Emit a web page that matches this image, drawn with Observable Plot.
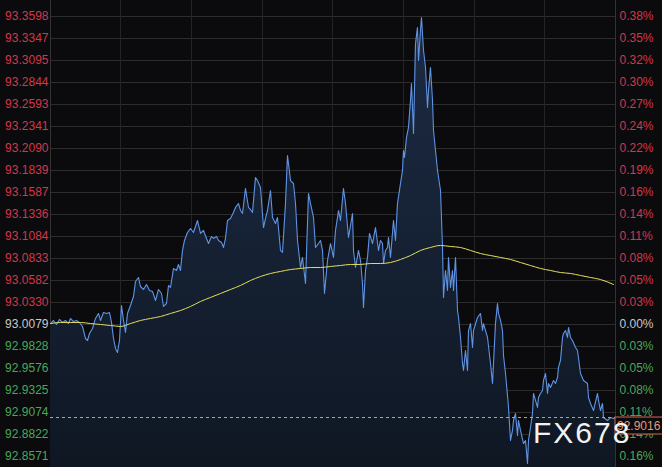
<!DOCTYPE html>
<html><head><meta charset="utf-8">
<script src="https://cdn.jsdelivr.net/npm/d3@7"></script>
<script src="https://cdn.jsdelivr.net/npm/@observablehq/plot@0.6"></script>
<style>
html,body{margin:0;padding:0;background:#0b0b0d;}
#chart{width:662px;height:467px;position:relative;overflow:hidden;}
</style></head><body><div id="chart"></div>
<script>
// time index (minutes from start of window)
const times = [
  0,3,6,9,12,15,18,20,23,26,
  29,32,35,37,39,42,45,48,50,53,
  56,59,61,63,65,67,69,71,73,75,
  77,80,83,85,88,90,93,96,99,102,
  105,108,111,113,116,118,120,123,126,128,
  130,132,134,137,140,143,147,150,153,156,
  158,161,163,166,168,171,173,175,177,180,
  183,185,188,190,192,195,198,200,202,205,
  207,210,213,215,217,220,222,225,227,230,
  232,235,237,240,243,245,247,250,252,255,
  258,260,263,265,268,270,272,274,277,280,
  283,285,287,288,290,293,295,298,300,302,
  303,305,308,310,312,313,315,317,319,322,
  325,328,330,332,333,335,337,338,340,343,
  345,347,350,352,353,354,356,358,360,361,
  363,365,367,368,370,371,373,375,377,378,
  380,382,383,385,387,390,392,393,395,397,
  398,400,402,403,405,407,408,410,412,413,
  415,417,418,420,422,423,427,430,432,433,
  437,440,442,443,445,447,448,450,452,453,
  455,457,458,460,462,463,465,467,468,470,
  473,475,477,478,480,482,483,485,487,488,
  490,492,493,495,497,498,500,503,505,507,
  508,510,512,513,515,517,518,520,522,525,
  527,530,533,537,538,540,543,547,548,550,
  552,553,557,560,563,565
];
const prices = [
  93.0090,93.0125,93.0079,93.0136,93.0102,93.0125,93.0090,93.0148,93.0113,93.0125,
  93.0102,93.0056,92.9919,92.9896,92.9976,93.0033,93.0148,93.0205,93.0125,93.0216,
  93.0205,93.0216,93.0102,92.9919,92.9805,92.9759,92.9896,93.0296,93.0125,92.9988,
  93.0205,93.0296,93.0399,93.0570,93.0616,93.0513,93.0479,93.0536,93.0468,93.0456,
  93.0353,93.0479,93.0433,93.0285,93.0319,93.0525,93.0502,93.0719,93.0696,93.0765,
  93.0696,93.0925,93.1039,93.1130,93.1176,93.1130,93.1267,93.1119,93.1153,93.1062,
  93.1004,93.1084,93.1062,93.1084,93.1039,93.1016,93.0959,93.1062,93.1267,93.1290,
  93.1359,93.1416,93.1461,93.1382,93.1347,93.1633,93.1416,93.1393,93.1359,93.1759,
  93.1724,93.1644,93.1187,93.1290,93.1382,93.1610,93.1302,93.1233,93.1302,93.0925,
  93.0902,93.1461,93.2010,93.1724,93.1690,93.1461,93.1039,93.0730,93.0845,93.0547,
  93.1576,93.1461,93.1302,93.0959,93.1004,93.1039,93.0925,93.0433,93.0810,93.1004,
  93.0845,93.1153,93.1302,93.1382,93.1267,93.1633,93.1461,93.1073,93.1210,93.1347,
  93.0925,93.0730,93.0925,93.0810,93.0547,93.0273,93.0696,93.0845,93.1119,93.1004,
  93.1187,93.0925,93.1039,93.1004,93.0776,93.0925,93.0959,93.1073,93.0845,93.1267,
  93.1039,93.1461,93.1690,93.1839,93.2067,93.1987,93.2216,93.2330,93.2638,93.2832,
  93.2261,93.3289,93.3472,93.3095,93.3438,93.3587,93.3210,93.3015,93.2558,93.2753,
  93.3015,93.2638,93.2296,93.2067,93.1839,93.1610,93.0959,93.0388,93.0696,93.0468,
  93.0845,93.0502,93.0696,93.0468,93.0845,93.0239,93.0159,92.9931,92.9633,92.9553,
  92.9782,92.9553,93.0010,93.0090,92.9816,93.0010,93.0159,93.0205,93.0010,93.0090,
  92.9931,92.9633,92.9405,92.9633,93.0090,93.0319,93.0205,93.0125,93.0010,92.9725,
  92.9519,92.9268,92.9131,92.8754,92.8868,92.8982,92.9062,92.8811,92.8982,92.8868,
  92.8719,92.8754,92.8491,92.8754,92.8902,92.9062,92.9291,92.9211,92.9131,92.9245,
  92.9291,92.9325,92.9439,92.9519,92.9291,92.9405,92.9359,92.9439,92.9405,92.9474,
  92.9588,92.9668,92.9931,92.9976,93.0010,92.9931,93.0045,92.9931,92.9896,92.9816,
  92.9782,92.9519,92.9439,92.9405,92.9245,92.9176,92.9096,92.9291,92.9211,92.9096,
  92.9176,92.9016,92.8982,92.9016,92.9005,92.9016
];
// moving average
const maTimes = [
  0,10,20,30,40,50,60,70,80,90,100,110,120,130,140,150,160,170,180,190,
  200,210,220,230,240,250,260,270,280,290,300,310,320,330,340,350,360,370,380,390,
  400,410,420,430,440,450,460,470,480,490,500,510,520,530,540,550,563
];
const maValues = [
  93.0090,93.0102,93.0102,93.0102,93.0090,93.0079,93.0068,93.0056,93.0090,93.0125,
  93.0148,93.0170,93.0205,93.0239,93.0285,93.0342,93.0388,93.0433,93.0479,93.0525,
  93.0582,93.0627,93.0662,93.0685,93.0707,93.0719,93.0730,93.0730,93.0742,93.0753,
  93.0765,93.0765,93.0776,93.0776,93.0787,93.0822,93.0867,93.0925,93.0959,93.0982,
  93.0970,93.0959,93.0925,93.0890,93.0867,93.0845,93.0822,93.0787,93.0753,93.0719,
  93.0696,93.0673,93.0662,93.0639,93.0616,93.0593,93.0536
];
const leftTickLabels = ["93.3598","93.3347","93.3095","93.2844","93.2593","93.2341","93.2090","93.1839","93.1587","93.1336","93.1084","93.0833","93.0582","93.0330","93.0079","92.9828","92.9576","92.9325","92.9074","92.8822","92.8571"];
const rightTickLabels = ["0.38%","0.35%","0.32%","0.30%","0.27%","0.24%","0.22%","0.19%","0.16%","0.14%","0.11%","0.08%","0.05%","0.03%","0.00%","0.03%","0.05%","0.08%","0.11%","0.14%","0.16%"];
const basePrice = 93.0079;
const lastPrice = 92.9016;
const lastPriceLabel = "92.9016";
const vGridTimes = [70, 141, 212, 282, 353, 424, 494];
const watermark = "FX678";

const yDomain = [92.8445, 93.3781];
const xDomain = [0, 565];

const data = times.map((t, i) => ({t, p: prices[i]}));
const ma = maTimes.map((t, i) => ({t, p: maValues[i]}));
const tickVals = leftTickLabels.map(Number);
const labelOf = new Map(tickVals.map((v, i) => [v, i]));
const upT = tickVals.filter(v => v > basePrice + 1e-6);
const dnT = tickVals.filter(v => v < basePrice - 1e-6);
const zeroT = tickVals.filter(v => Math.abs(v - basePrice) < 1e-6);
const lf = v => leftTickLabels[labelOf.get(v)];
const rf = v => rightTickLabels[labelOf.get(v)];

const RED = "#d6364a", GREEN = "#48a85a", GRAY = "#c8c8c8";
const axisCommon = {tickSize: 0, label: null};

const chart = Plot.plot({
  width: 662, height: 467,
  marginLeft: 50, marginRight: 47, marginTop: 0, marginBottom: 0,
  x: {domain: xDomain, axis: null},
  y: {domain: yDomain},
  style: {background: "#0b0b0d", fontFamily: "'Liberation Sans', Arial, sans-serif", fontSize: "12px", overflow: "visible"},
  marks: [
    Plot.gridY(tickVals, {stroke: "#2e2e2e", strokeOpacity: 1}),
    Plot.ruleX(vGridTimes, {stroke: "#242424", strokeOpacity: 1}),
    Plot.ruleX(xDomain, {stroke: "#333", strokeOpacity: 1}),
    Plot.areaY(data, {x: "t", y1: () => yDomain[0], y2: "p", fill: "url(#areaGrad)"}),
    Plot.line(data, {x: "t", y: "p", stroke: "#5f93e4", strokeWidth: 1.1}),
    Plot.line(ma, {x: "t", y: "p", stroke: "#e4de5c", strokeWidth: 1, curve: "monotone-x"}),
    Plot.ruleY([lastPrice], {stroke: "#e0a23e", strokeDasharray: "3,3"}),
    Plot.axisY({...axisCommon, anchor: "left", ticks: upT, tickFormat: lf, tickPadding: 2, fill: RED}),
    Plot.axisY({...axisCommon, anchor: "left", ticks: zeroT, tickFormat: lf, tickPadding: 2, fill: GRAY}),
    Plot.axisY({...axisCommon, anchor: "left", ticks: dnT, tickFormat: lf, tickPadding: 2, fill: GREEN}),
    Plot.axisY({...axisCommon, anchor: "right", ticks: upT, tickFormat: rf, tickPadding: 4, fill: RED}),
    Plot.axisY({...axisCommon, anchor: "right", ticks: zeroT, tickFormat: rf, tickPadding: 4, fill: GRAY}),
    Plot.axisY({...axisCommon, anchor: "right", ticks: dnT, tickFormat: rf, tickPadding: 4, fill: GREEN})
  ]
});

const svg = d3.select(chart);
const defs = svg.insert("defs", ":first-child");
const grad = defs.append("linearGradient").attr("id", "areaGrad")
  .attr("x1", 0).attr("y1", 0).attr("x2", 0).attr("y2", 1);
grad.append("stop").attr("offset", "0%").attr("stop-color", "#1c2b44").attr("stop-opacity", 1);
grad.append("stop").attr("offset", "100%").attr("stop-color", "#0f1723").attr("stop-opacity", 1);

const ys = chart.scale("y");
const xs = chart.scale("x");
const yLast = ys.apply(lastPrice);
const xRight = xs.apply(xDomain[1]);
const box = svg.append("g").attr("text-anchor", "start");
box.append("rect").attr("x", xRight).attr("y", yLast).attr("width", 52).attr("height", 17)
  .attr("fill", "#0b0b0d").attr("stroke", "#d86a48").attr("stroke-width", 1);
box.append("text").attr("x", xRight + 2).attr("y", yLast + 13).attr("fill", "#e89a74")
  .attr("font-size", 12).text(lastPriceLabel);

svg.append("text").attr("x", xRight - 82).attr("y", yLast + 26)
  .attr("text-anchor", "start")
  .attr("fill", "#f2f2f2").attr("font-size", 30).attr("letter-spacing", 2)
  .attr("font-family", "'Liberation Sans', Arial, sans-serif")
  .text(watermark);

document.getElementById("chart").appendChild(chart);
</script>
</body></html>
